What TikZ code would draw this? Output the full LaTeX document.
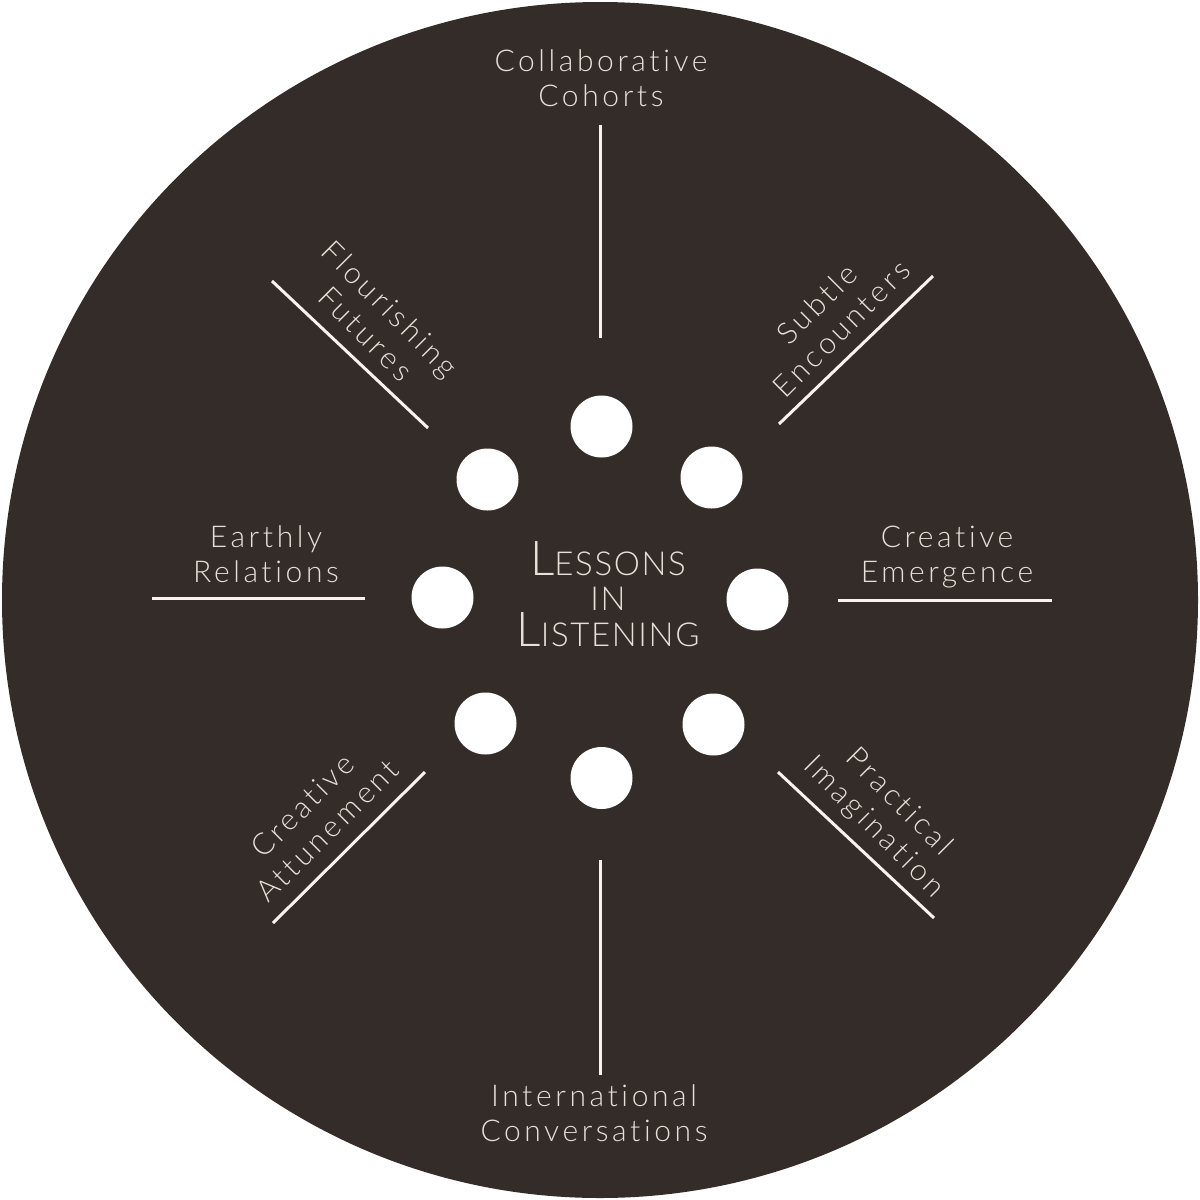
\documentclass[tikz,border=0pt]{standalone}
\usepackage{fontspec}
\setmainfont{Lato Light}
\newfontfamily\lblfont[LetterSpace=12,Ligatures=NoCommon]{Lato Light}
\newfontfamily\ctrfont[LetterSpace=5,Ligatures=NoCommon]{Lato Light}
\definecolor{bgc}{RGB}{52,44,41}
\definecolor{txtc}{RGB}{230,224,215}
\definecolor{rayc}{RGB}{247,244,240}
\begin{document}
\begin{tikzpicture}[x=1pt,y=-1pt,
  ray/.style={draw=rayc, line width=3pt},
  dot/.style={circle, fill=white, minimum size=62pt, inner sep=0pt},
  lbl/.style={text=txtc, align=center, inner sep=0pt, font=\lblfont\fontsize{30}{35}\selectfont}]
\useasboundingbox (0,0) rectangle (1200,1200);
\fill[bgc] (600,600) circle (598pt);
% dots
\node[dot] (d1) at (601.5,426.5) {};
\node[dot] (d2) at (711.5,477.5) {};
\node[dot] (d3) at (757.5,599.5) {};
\node[dot] (d4) at (713.5,724.5) {};
\node[dot] (d5) at (601.5,778) {};
\node[dot] (d6) at (485.5,723.5) {};
\node[dot] (d7) at (442.5,597.5) {};
\node[dot] (d8) at (487.5,479.5) {};
% centre
\node[text=txtc, align=center, inner sep=0pt, font=\ctrfont\fontsize{33}{35.5}\selectfont] (c) at (608,594)
  {{\fontsize{48}{35.5}\selectfont L}ESSONS\\IN\\{\fontsize{48}{35.5}\selectfont L}ISTENING};
% rays
\coordinate (n1) at (600,125); \coordinate (n2) at (600,338);
\coordinate (s1) at (600,860); \coordinate (s2) at (600,1075);
\coordinate (w1) at (152,598); \coordinate (w2) at (365,598);
\coordinate (e1) at (838,600); \coordinate (e2) at (1052,600);
\coordinate (ne1) at (779,424); \coordinate (ne2) at (933,276);
\coordinate (nw1) at (272,281); \coordinate (nw2) at (428,428);
\coordinate (sw1) at (273,923); \coordinate (sw2) at (425,772);
\coordinate (se1) at (778,772); \coordinate (se2) at (934,918);
\draw[ray] (n1) -- (n2);
\draw[ray] (s1) -- (s2);
\draw[ray] (w1) -- (w2);
\draw[ray] (e1) -- (e2);
\draw[ray] (ne1) -- (ne2);
\draw[ray] (nw1) -- (nw2);
\draw[ray] (sw1) -- (sw2);
\draw[ray] (se1) -- (se2);
% labels
\node[lbl] (ln) at (601,78) {Collaborative\\Cohorts};
\node[lbl] (ls) at (594,1113) {International\\Conversations};
\node[lbl] (lw) at (266,554) {Earthly\\Relations};
\node[lbl] (le) at (947,557) {Creative\\Emergence};
\node[lbl, rotate=-45] (lnw) at (378,321) {Flourishing\\Futures};
\node[lbl, rotate=45] (lne) at (829,316) {Subtle\\Encounters};
\node[lbl, rotate=-45] (lse) at (886,815) {Practical\\Imagination};
\node[lbl, rotate=45] (lsw) at (315,818) {Creative\\Attunement};
\end{tikzpicture}
\end{document}
